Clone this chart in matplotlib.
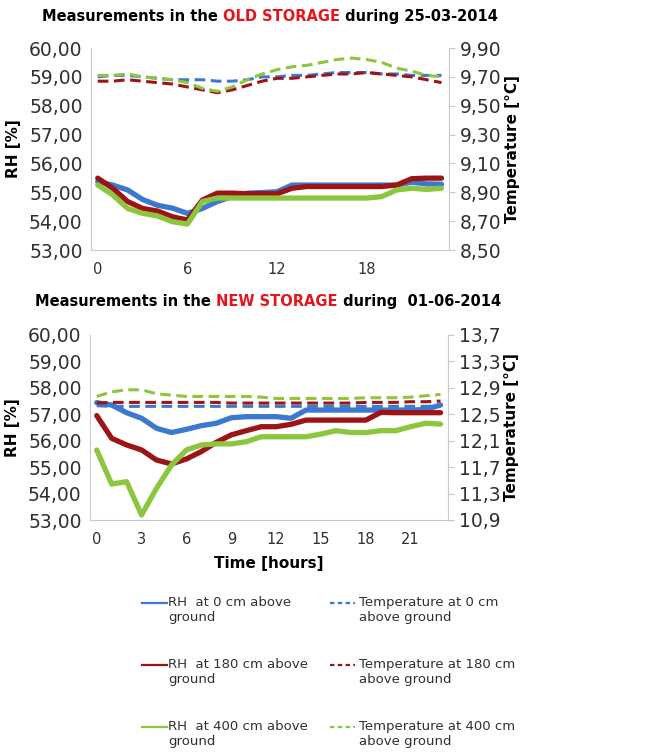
import matplotlib
matplotlib.use("Agg")
import matplotlib.pyplot as plt
from matplotlib.lines import Line2D
from matplotlib.ticker import FuncFormatter

hours = list(range(24))

# old storage, 25-03-2014
old_rh_0 = [55.37, 55.25, 55.08, 54.75, 54.55, 54.45, 54.27, 54.44, 54.68, 54.85, 54.97, 54.99,
            55.02, 55.25, 55.25, 55.25, 55.25, 55.25, 55.25, 55.25, 55.25, 55.35, 55.29, 55.28]
old_rh_180 = [55.49, 55.14, 54.68, 54.44, 54.35, 54.15, 54.04, 54.73, 54.97, 54.97, 54.95, 54.95,
              54.95, 55.14, 55.2, 55.2, 55.2, 55.2, 55.2, 55.2, 55.25, 55.47, 55.49, 55.49]
old_rh_400 = [55.25, 54.91, 54.44, 54.27, 54.18, 53.98, 53.9, 54.68, 54.8, 54.8, 54.8, 54.8,
              54.8, 54.8, 54.8, 54.8, 54.8, 54.8, 54.8, 54.85, 55.08, 55.14, 55.1, 55.14]
old_t_0 = [9.70, 9.71, 9.71, 9.70, 9.69, 9.68, 9.68, 9.68, 9.67, 9.67, 9.68, 9.70,
           9.70, 9.71, 9.71, 9.72, 9.73, 9.73, 9.73, 9.72, 9.72, 9.71, 9.71, 9.71]
old_t_180 = [9.67, 9.67, 9.68, 9.67, 9.66, 9.65, 9.63, 9.61, 9.59, 9.61, 9.64, 9.67,
             9.69, 9.69, 9.70, 9.71, 9.72, 9.72, 9.73, 9.72, 9.71, 9.70, 9.68, 9.66]
old_t_400 = [9.71, 9.71, 9.72, 9.70, 9.69, 9.68, 9.66, 9.62, 9.60, 9.63, 9.68, 9.72,
             9.75, 9.77, 9.78, 9.80, 9.82, 9.83, 9.82, 9.80, 9.76, 9.74, 9.71, 9.70]

# new storage, 01-06-2014
new_rh_0 = [57.44, 57.35, 57.06, 56.85, 56.47, 56.31, 56.43, 56.57, 56.66, 56.87, 56.91, 56.91,
            56.91, 56.85, 57.16, 57.16, 57.16, 57.16, 57.16, 57.16, 57.16, 57.16, 57.18, 57.35]
new_rh_180 = [56.95, 56.09, 55.84, 55.65, 55.27, 55.12, 55.31, 55.59, 55.94, 56.22, 56.38, 56.53,
              56.53, 56.62, 56.78, 56.78, 56.78, 56.78, 56.78, 57.07, 57.06, 57.06, 57.06, 57.06]
new_rh_400 = [55.65, 54.36, 54.45, 53.19, 54.2, 55.08, 55.65, 55.84, 55.88, 55.88, 55.96, 56.15,
              56.15, 56.15, 56.15, 56.25, 56.38, 56.31, 56.31, 56.38, 56.38, 56.53, 56.66, 56.63]
new_t_0 = [12.63, 12.62, 12.62, 12.62, 12.62, 12.62, 12.62, 12.62, 12.62, 12.62, 12.62, 12.62,
           12.62, 12.62, 12.62, 12.62, 12.62, 12.62, 12.62, 12.62, 12.62, 12.62, 12.62, 12.63]
new_t_180 = [12.67, 12.68, 12.68, 12.68, 12.68, 12.68, 12.68, 12.68, 12.68, 12.67, 12.67, 12.67,
             12.67, 12.67, 12.67, 12.67, 12.67, 12.67, 12.68, 12.68, 12.68, 12.69, 12.69, 12.70]
new_t_400 = [12.77, 12.84, 12.87, 12.87, 12.81, 12.79, 12.77, 12.77, 12.77, 12.77, 12.77, 12.76,
             12.74, 12.74, 12.74, 12.74, 12.74, 12.74, 12.75, 12.75, 12.75, 12.76, 12.78, 12.80]

labels_rh = ["RH  at 0 cm above\nground", "RH  at 180 cm above\nground", "RH  at 400 cm above\nground"]
labels_t = ["Temperature at 0 cm\nabove ground", "Temperature at 180 cm\nabove ground",
            "Temperature at 400 cm\nabove ground"]

blue = "#3b78d0"
red = "#9c1414"
green = "#8cc63e"
colors = [blue, red, green]
grid_c = "#c8c8c8"
txt_c = "#303030"

W, H = 655, 754
fig = plt.figure(figsize=(W / 100, H / 100), dpi=100)


def comma(fmt):
    return FuncFormatter(lambda v, p: fmt.format(v).replace(".", ","))


def panel(box, rh, temps, tlim, tticks, tfmt, xticks):
    ax = fig.add_axes(box)
    for s, c in zip(rh, colors):
        ax.plot(hours, s, color=c, lw=3.8, solid_capstyle="round", solid_joinstyle="round", zorder=3)
    ax.set_xlim(-0.45, 23.5)
    ax.set_ylim(53, 60)
    ax.set_yticks(range(53, 61))
    ax.yaxis.set_major_formatter(comma("{:.2f}"))
    ax.set_xticks(xticks)
    ax.tick_params(axis="both", length=0, labelsize=13.5, labelcolor=txt_c, pad=6)
    ax.tick_params(axis="x", labelsize=10.5, pad=9)
    for side in ["top", "right"]:
        ax.spines[side].set_visible(False)
    for side in ["left", "bottom"]:
        ax.spines[side].set_color(grid_c)
    ax.set_ylabel("RH [%]", fontsize=11, fontweight="bold", labelpad=6)

    ax2 = ax.twinx()
    for s, c in zip(temps, colors):
        ax2.plot(hours, s, color=c, lw=2.2, ls=(0, (3.5, 1.8)), zorder=2)
    ax2.set_ylim(*tlim)
    ax2.set_yticks(tticks)
    ax2.yaxis.set_major_formatter(comma(tfmt))
    ax2.tick_params(axis="y", length=4, color=grid_c, labelsize=13.5, labelcolor=txt_c, pad=4)
    for side in ["top", "left", "bottom"]:
        ax2.spines[side].set_visible(False)
    ax2.spines["right"].set_color(grid_c)
    ax2.set_ylabel("Temperature [°C]", fontsize=11, fontweight="bold", labelpad=2)
    return ax


ax_top = panel([91 / W, 1 - 250 / H, 358 / W, 202 / H],
               [old_rh_0, old_rh_180, old_rh_400], [old_t_0, old_t_180, old_t_400],
               (8.5, 9.9), [8.5 + 0.2 * i for i in range(8)], "{:.2f}", [0, 6, 12, 18])
ax_bot = panel([90 / W, 1 - 520 / H, 358 / W, 185 / H],
               [new_rh_0, new_rh_180, new_rh_400], [new_t_0, new_t_180, new_t_400],
               (10.9, 13.7), [10.9 + 0.4 * i for i in range(8)], "{:.1f}", list(range(0, 22, 3)))
ax_bot.set_xlabel("Time [hours]", fontsize=11, fontweight="bold", labelpad=6)


def title_row(x, y, parts):
    # pieces in different colours, each one placed after the previous
    prev = None
    for s, c in parts:
        if prev is None:
            prev = fig.text(x / W, 1 - y / H, s, color=c, fontsize=10.5, fontweight="bold",
                            va="baseline", ha="left")
        else:
            prev = fig.add_artist(plt.Annotation(s, xy=(1, 0), xycoords=prev, va="bottom", ha="left",
                                                 color=c, fontsize=10.5, fontweight="bold"))


title_row(42, 21, [("Measurements in the ", "black"), ("OLD STORAGE", "#e8141b"),
                   (" during 25-03-2014", "black")])
title_row(35, 306, [("Measurements in the ", "black"), ("NEW STORAGE", "#e8141b"),
                    (" during  01-06-2014", "black")])

# legend drawn below the lower chart
rows_y = [603, 665, 727]
for i in range(3):
    y = 1 - rows_y[i] / H
    fig.add_artist(Line2D([142 / W, 167 / W], [y, y], color=colors[i], lw=1.6))
    fig.text(168 / W, y + 7 / H, labels_rh[i], fontsize=9.5, va="top", ha="left", color=txt_c,
             linespacing=1.15)
    fig.add_artist(Line2D([330 / W, 355 / W], [y, y], color=colors[i], lw=1.6, ls=(0, (2, 1.5))))
    fig.text(359 / W, y + 7 / H, labels_t[i], fontsize=9.5, va="top", ha="left", color=txt_c,
             linespacing=1.15)

fig.savefig("out.png", dpi=100)
